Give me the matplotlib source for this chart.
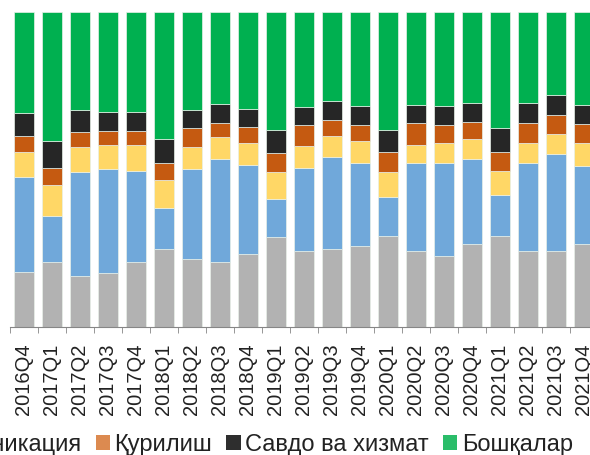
import matplotlib
matplotlib.use("Agg")
import matplotlib.pyplot as plt
from matplotlib.patches import Patch
import numpy as np

plt.rcParams["font.family"] = ["Liberation Sans", "DejaVu Sans"]

quarters = [
    "2016Q4", "2017Q1", "2017Q2", "2017Q3", "2017Q4", "2018Q1", "2018Q2",
    "2018Q3", "2018Q4", "2019Q1", "2019Q2", "2019Q3", "2019Q4", "2020Q1",
    "2020Q2", "2020Q3", "2020Q4", "2021Q1", "2021Q2", "2021Q3", "2021Q4",
]

# улушлар, % (пастдан юқорига)
sanoat = [17.5, 20.6, 16.3, 17.2, 20.6, 24.9, 21.7, 20.6, 23.2, 28.6, 24.1,
          24.9, 25.8, 28.8, 24.0, 22.6, 26.3, 28.8, 24.2, 24.1, 26.3]
qishloq = [30.2, 14.6, 33.0, 33.0, 28.9, 12.9, 28.6, 32.6, 28.2, 12.0, 26.5,
           29.1, 26.4, 12.5, 28.2, 29.6, 27.0, 13.0, 27.8, 30.7, 24.9]
transport = [7.7, 9.8, 7.7, 7.5, 8.3, 9.0, 6.9, 7.0, 7.1, 8.6, 6.8,
             6.7, 7.0, 7.8, 5.5, 6.3, 6.4, 7.6, 6.3, 6.6, 7.1]
qurilish = [5.3, 5.5, 5.0, 4.5, 4.4, 5.4, 6.1, 4.5, 4.9, 6.1, 6.8,
            5.1, 4.9, 6.3, 7.1, 5.6, 5.5, 6.2, 6.6, 5.9, 6.0]
savdo = [7.2, 8.7, 6.8, 6.1, 6.1, 7.5, 5.7, 6.0, 5.8, 7.2, 5.6,
         5.8, 6.0, 7.2, 5.7, 6.2, 6.0, 7.7, 6.1, 6.4, 6.1]
boshqalar = [32.1, 40.8, 31.2, 31.7, 31.7, 40.3, 31.0, 29.3, 30.8, 37.5, 30.2,
             28.4, 29.9, 37.4, 29.5, 29.7, 28.8, 36.7, 29.0, 26.3, 29.6]

# (номи, қийматлар, устун ранги, легенда ранги)
series = [
    ("Саноат", sanoat, "#B2B2B2", "#BDBDBD"),
    ("Қишлоқ хўжалиги", qishloq, "#70A8DA", "#85B5E0"),
    ("Транспорт ва коммуникация", transport, "#FFD766", "#FFDC7A"),
    ("Қурилиш", qurilish, "#C55A11", "#DC8A50"),
    ("Савдо ва хизмат", savdo, "#262626", "#2E2E2E"),
    ("Бошқалар", boshqalar, "#00B050", "#2BBD6A"),
]

fig = plt.figure(figsize=(5.9, 4.56), dpi=100)
ax = fig.add_axes([10 / 590, 1 - 328 / 456, 588 / 590, 315 / 456])

x = np.arange(len(quarters))
bottom = np.zeros(len(quarters))
for name, vals, color, _ in series:
    vals = np.array(vals)
    ax.bar(x, vals, 0.71, bottom=bottom, color=color,
           edgecolor="#E8F0E8", linewidth=0.5)
    bottom += vals

ax.set_xlim(-0.5, len(quarters) - 0.5)
ax.set_ylim(0, bottom.max())
for s in ["top", "right", "left"]:
    ax.spines[s].set_visible(False)
ax.spines["bottom"].set_color("#868686")
ax.set_yticks([])

ax.set_xticks(x)
ax.set_xticklabels(quarters, rotation=90, fontsize=14.5, color="#222222")
ax.tick_params(axis="x", which="major", length=0, pad=11)
ax.set_xticks(np.arange(-0.5, len(quarters), 1), minor=True)
ax.tick_params(axis="x", which="minor", length=4.5, color="#868686", direction="out")

handles = [Patch(facecolor=lc, edgecolor="none") for _, _, _, lc in series]
labels = [n for n, _, _, _ in series]
fig.legend(handles, labels, ncol=6, loc="center right",
           bbox_to_anchor=(573 / 590, 1 - 445 / 456), frameon=False,
           fontsize=17, handlelength=0.6, handleheight=0.6,
           handletextpad=0.2, columnspacing=0.6,
           borderpad=0, borderaxespad=0, labelcolor="#222222")

fig.savefig("out.png", dpi=100)
